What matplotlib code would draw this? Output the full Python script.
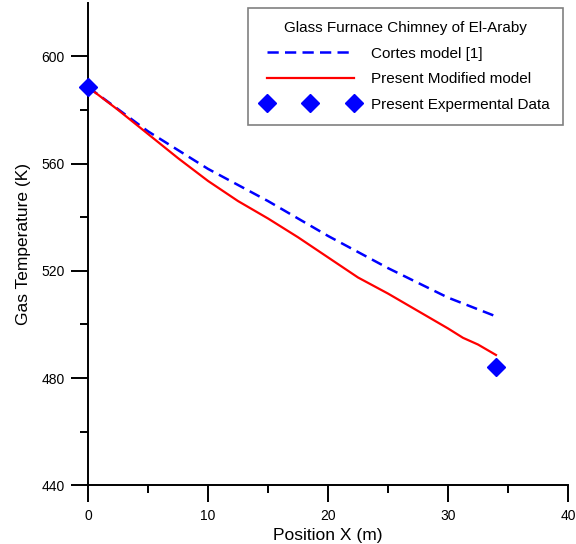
import matplotlib.pyplot as plt

# Present modified model (red solid)
x_model = [0, 2.5, 5, 7.5, 10, 12.5, 15, 17.5, 20, 21, 22.5, 25, 27.5, 30, 31.25, 32.5, 34]
t_model = [588.5, 580, 571, 562, 553.5, 546, 539.5, 532.5, 525, 522, 517.5, 511.5, 505, 498.5, 495, 492.5, 488.6]

# Cortes model [1] (blue dashed)
x_cortes = [0, 5, 10, 15, 20, 25, 30, 34]
t_cortes = [588.5, 572, 558, 546, 533, 521, 510, 503]

# Experimental data
x_exp = [0, 34]
t_exp = [588.5, 484]


def main():
    plt.rcParams['font.family'] = ['Liberation Sans', 'DejaVu Sans']
    fig = plt.figure(figsize=(5.76, 5.44), dpi=100)
    ax = fig.add_axes([0.153, 0.108, 0.833, 0.887])

    ax.plot(x_cortes, t_cortes, color='blue', linestyle=(0, (4.5, 2.5)), linewidth=1.8,
            label='Cortes model [1]')
    ax.plot(x_model, t_model, color='red', linewidth=1.6, label='Present Modified model')
    ax.plot(x_exp, t_exp, linestyle='none', marker='D', markersize=9.5, color='blue',
            label='Present Expermental Data', clip_on=False, zorder=5)

    ax.set_xlim(0, 40)
    ax.set_ylim(440, 620)
    ax.set_xticks([0, 10, 20, 30, 40])
    ax.set_xticks([5, 15, 25, 35], minor=True)
    ax.set_yticks([440, 480, 520, 560, 600])
    ax.set_yticks([460, 500, 540, 580], minor=True)

    for side in ['top', 'right']:
        ax.spines[side].set_visible(False)
    for side in ['left', 'bottom']:
        ax.spines[side].set_linewidth(1.4)

    ax.tick_params(which='major', direction='out', length=12, width=1.4, labelsize=10, pad=5)
    ax.tick_params(which='minor', direction='out', length=6, width=1.4)

    ax.set_xlabel('Position X (m)', fontsize=12.5, labelpad=4)
    ax.set_ylabel('Gas Temperature (K)', fontsize=12.5, labelpad=7)

    leg = ax.legend(title='Glass Furnace Chimney of El-Araby', loc='upper right',
                    bbox_to_anchor=(0.99, 0.99), borderaxespad=0,
                    fontsize=11, title_fontsize=11,
                    handlelength=6.3, numpoints=3, fancybox=False, framealpha=1,
                    borderpad=0.9, labelspacing=0.75, handletextpad=0.8)
    leg.get_frame().set_edgecolor('gray')
    leg.get_frame().set_linewidth(1.2)

    fig.savefig('out.png', dpi=100)


if __name__ == '__main__':
    main()
